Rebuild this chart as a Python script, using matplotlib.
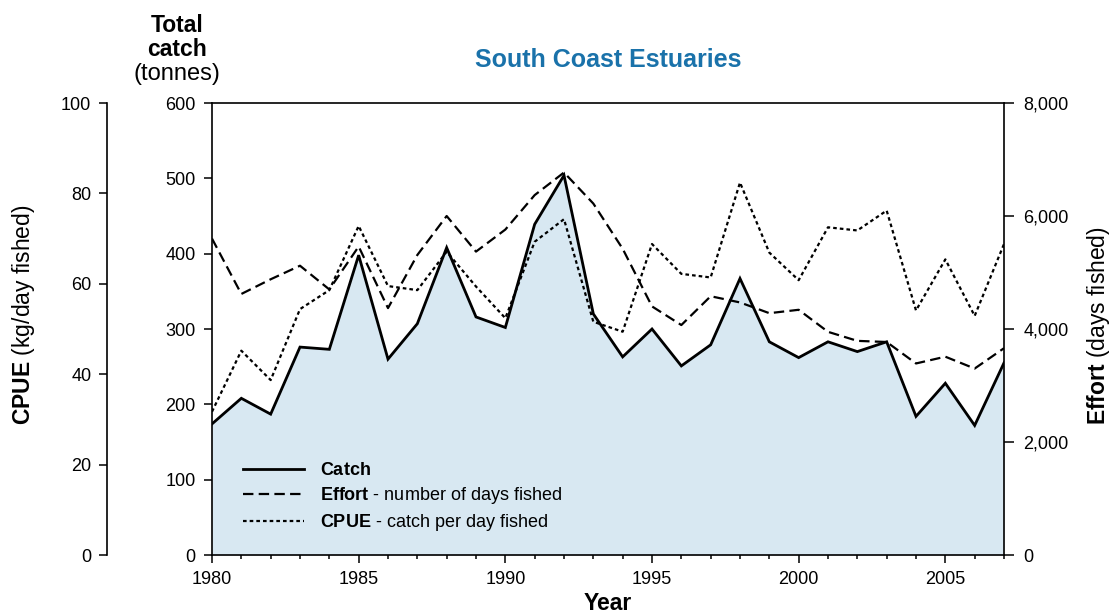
import matplotlib
matplotlib.use("Agg")
import matplotlib.pyplot as plt
from matplotlib.lines import Line2D
from matplotlib.ticker import MultipleLocator, FuncFormatter

plt.rcParams['font.family'] = ['Liberation Sans', 'DejaVu Sans']
plt.rcParams['mathtext.fontset'] = 'custom'
plt.rcParams['mathtext.rm'] = 'Liberation Sans'
plt.rcParams['mathtext.bf'] = 'Liberation Sans:bold'
plt.rcParams['lines.scale_dashes'] = False

years = list(range(1980, 2008))
catch = [174, 208, 187, 276, 273, 398, 260, 307, 408, 316, 302, 439, 504, 320,
         263, 300, 251, 279, 367, 283, 262, 283, 270, 283, 184, 228, 172, 255]
effort = [5600, 4620, 4880, 5120, 4700, 5460, 4370, 5310, 6000, 5370, 5760, 6370,
          6770, 6220, 5420, 4400, 4070, 4580, 4470, 4280, 4340, 3950, 3790, 3770,
          3390, 3510, 3300, 3660]
cpue = [31.7, 45.2, 38.7, 54.4, 58.6, 72.8, 59.5, 58.6, 67.1, 59.4, 52.4, 69.3,
        74.3, 51.6, 49.4, 68.8, 62.2, 61.4, 82.4, 66.9, 60.8, 72.5, 71.8, 76.2,
        54.1, 65.4, 52.9, 68.8]

title = "South Coast Estuaries"
fill_color = '#d8e8f2'
title_color = '#1a72aa'

fig = plt.figure(figsize=(11.12, 6.15), dpi=100)
ax = fig.add_axes([212/1112, 60/615, 792/1112, 452/615])

ax.fill_between(years, catch, 0, color=fill_color, lw=0, zorder=1)
ax.plot(years, catch, color='black', lw=2.0, solid_joinstyle='miter', zorder=3)
ax.set_xlim(1980, 2007)
ax.set_ylim(0, 600)
ax.yaxis.set_major_locator(MultipleLocator(100))
ax.xaxis.set_major_locator(MultipleLocator(5))
ax.xaxis.set_minor_locator(MultipleLocator(1))
ax.tick_params(axis='x', which='major', direction='out', length=5.5, width=1.1,
               pad=6, labelsize=13)
ax.tick_params(axis='x', which='minor', direction='out', length=3, width=1.1)
ax.tick_params(axis='y', direction='out', length=5.8, width=1.1, pad=6, labelsize=13)
for s in ax.spines.values():
    s.set_linewidth(1.2)
ax.spines['right'].set_visible(False)

# Effort axis (right)
ax2 = ax.twinx()
ax2.plot(years, effort, color='black', lw=1.6, linestyle=(0, (7.5, 3.8)), zorder=3)
ax2.set_ylim(0, 8000)
ax2.yaxis.set_major_locator(MultipleLocator(2000))
ax2.yaxis.set_major_formatter(FuncFormatter(lambda v, p: f"{int(v):,}"))
ax2.tick_params(axis='y', direction='out', length=7, width=1.1, pad=7, labelsize=13)
for k in ['left', 'top', 'bottom']:
    ax2.spines[k].set_visible(False)
ax2.spines['right'].set_linewidth(1.2)

# CPUE axis (far left)
ax3 = ax.twinx()
ax3.plot(years, cpue, color='black', lw=1.6, linestyle=(0, (2.6, 2.2)), zorder=3)
ax3.set_ylim(0, 100)
ax3.yaxis.set_major_locator(MultipleLocator(20))
ax3.spines['left'].set_position(('outward', 105 * 72 / 100))
ax3.spines['left'].set_visible(True)
ax3.spines['left'].set_linewidth(1.2)
for k in ['right', 'top', 'bottom']:
    ax3.spines[k].set_visible(False)
ax3.yaxis.set_ticks_position('left')
ax3.yaxis.set_label_position('left')
ax3.tick_params(axis='y', direction='out', length=5.8, width=1.1, pad=5.5, labelsize=13)

# Legend
handles = [Line2D([], [], color='black', lw=2.0),
           Line2D([], [], color='black', lw=1.6, linestyle=(0, (7.5, 3.8))),
           Line2D([], [], color='black', lw=1.6, linestyle=(0, (2.6, 2.2)))]
labels = [r'$\bf{Catch}$',
          r'$\bf{Effort}$ - number of days fished',
          r'$\bf{CPUE}$ - catch per day fished']
ax3.legend(handles, labels, loc='upper left', bbox_to_anchor=(243/1112, (615-462)/615),
           bbox_transform=fig.transFigure, frameon=False, fontsize=13,
           handlelength=3.4, handletextpad=0.85, labelspacing=0.33, borderpad=0,
           borderaxespad=0)

# Texts
fig.text(608/1112, 1 - 60/615, title, color=title_color, fontsize=18, fontweight='bold',
         ha='center', va='center')
fig.text(177/1112, 1 - 25/615, 'Total', fontsize=16.5, fontweight='bold', ha='center', va='center')
fig.text(177/1112, 1 - 50/615, 'catch', fontsize=16.5, fontweight='bold', ha='center', va='center')
fig.text(177/1112, 1 - 74/615, '(tonnes)', fontsize=17, ha='center', va='center')
fig.text(608/1112, 1 - 603/615, 'Year', fontsize=16.5, fontweight='bold', ha='center', va='center')
fig.text(24/1112, 1 - 315/615, r'$\bf{CPUE}$ (kg/day fished)', fontsize=16.5, rotation=90,
         ha='center', va='center')
fig.text(1099/1112, 1 - 326/615, r'$\bf{Effort}$ (days fished)', fontsize=16.5, rotation=90,
         ha='center', va='center')

fig.savefig('out.png', dpi=100)
